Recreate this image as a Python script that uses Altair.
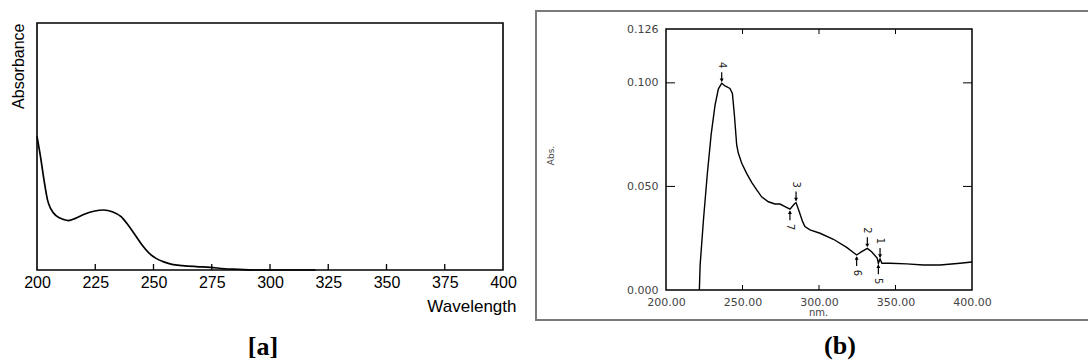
import altair as alt
import pandas as pd

# ---------------- data ----------------
# Panel [a]
a_wavelength = [200, 201.5, 203.0, 204.5, 206.0, 208.3, 211.3, 213.5, 216.5, 220.3, 224.8,
                228.6, 232.3, 236.1, 239.1, 242.1, 245.1, 248.1, 251.1, 254.1, 257.9, 262.4,
                268.4, 274.4, 280.5, 286.5, 292.5, 319.5]
a_absorbance = [0.541, 0.459, 0.365, 0.284, 0.246, 0.219, 0.205, 0.200, 0.209, 0.226, 0.239,
                0.243, 0.236, 0.216, 0.182, 0.142, 0.101, 0.068, 0.047, 0.034, 0.023, 0.018,
                0.014, 0.011, 0.005, 0.003, 0.0, 0.0]
a_tick_labels = [200, 225, 250, 275, 300, 325, 350, 375, 400]
a_minor_ticks = [225, 250, 275, 300, 325, 350, 375]

# Panel (b)
b_wavelength = [221.8, 222.3, 224.5, 227.0, 229.5, 232.0, 234.2, 236.4, 238.6, 241.8,
                243.4, 244.7, 246.2, 247.3, 249.5, 252.7, 256.0, 259.3, 262.5, 266.9, 271.2,
                274.5, 277.8, 281.0, 283.9, 285.0, 287.1, 289.3, 290.8, 294.1, 300.7, 309.4,
                318.1, 324.6, 327.9, 331.6, 334.4, 338.1, 338.8, 339.9, 341.1, 346.4, 357.3,
                368.2, 379.1, 392.2, 400.0]
b_absorbance = [0.0, 0.012, 0.034, 0.056, 0.075, 0.089, 0.097, 0.0998, 0.0985, 0.0973,
                0.0949, 0.0845, 0.0700, 0.0660, 0.0612, 0.0563, 0.0520, 0.0483, 0.0450, 0.0426, 0.0415,
                0.0415, 0.0402, 0.0390, 0.0415, 0.0422, 0.0378, 0.0330, 0.0306, 0.0290, 0.0274, 0.0245,
                0.0206, 0.0169, 0.0185, 0.0201, 0.0185, 0.0153, 0.0129, 0.0150, 0.0129, 0.0129, 0.0126,
                0.0121, 0.0121, 0.0129, 0.0135]
peak_labels = ["4", "3", "7", "2", "1", "6", "5"]
peak_wavelength = [236.4, 285.0, 281.0, 331.6, 339.9, 324.6, 338.8]
peak_absorbance = [0.0998, 0.0422, 0.0390, 0.0201, 0.0150, 0.0169, 0.0129]
peak_side = ["above", "above", "below", "above", "above", "below", "below"]
b_x_labels = [200, 250, 300, 350, 400]
b_y_labels = [0.0, 0.05, 0.1, 0.126]
b_x_ticks = [250, 300, 350]
b_y_ticks = [0.05, 0.1]

# ---------------- tables ----------------
df_a = pd.DataFrame({"wl": a_wavelength, "ab": a_absorbance})
df_a_ticks = pd.DataFrame({"wl": a_minor_ticks, "ab": [0.0] * len(a_minor_ticks)})
df_a_frame = pd.DataFrame({"wl": [200], "wl2": [400], "ab": [0.0], "ab2": [1.0]})

df_b = pd.DataFrame({"wl": b_wavelength, "ab": b_absorbance})
df_peaks = pd.DataFrame({"label": peak_labels, "wl": peak_wavelength,
                         "ab": peak_absorbance, "side": peak_side})
df_b_frame = pd.DataFrame({"wl": [200], "wl2": [400], "ab": [0.0], "ab2": [0.126]})
df_b_xt = pd.DataFrame({"wl": b_x_ticks})
df_b_yt = pd.DataFrame({"ab": b_y_ticks})
one = pd.DataFrame({"k": [0]})

# ---------------- panel [a] encodings ----------------
def xa():
    return alt.X("wl:Q",
                 scale=alt.Scale(domain=[200, 400], range=[37, 503], nice=False, zero=False),
                 axis=alt.Axis(orient="bottom", offset=-93, values=a_tick_labels, format="d",
                               ticks=False, domain=False, grid=False,
                               labelFont="Liberation Sans", labelFontSize=16, labelColor="black",
                               labelPadding=4, labelFlush=False, labelOverlap=False,
                               title="Wavelength", titleFont="Liberation Sans", titleFontSize=17,
                               titleFontWeight="normal", titleColor="black",
                               titleX=516, titleY=36, titleAlign="right", titleBaseline="middle"))

def ya():
    return alt.Y("ab:Q",
                 scale=alt.Scale(domain=[0, 1], range=[270, 23], nice=False, zero=False),
                 axis=alt.Axis(orient="left", offset=-37, labels=False, ticks=False,
                               domain=False, grid=False,
                               title="Absorbance", titleFont="Liberation Sans", titleFontSize=16,
                               titleFontWeight="normal", titleColor="black", titleAngle=270,
                               titleX=-19, titleY=23, titleAlign="right", titleBaseline="middle"))

line_a = alt.Chart(df_a).mark_line(color="black", strokeWidth=1.7, interpolate="monotone").encode(
    x=xa(), y=ya())
frame_a = alt.Chart(df_a_frame).mark_rect(filled=False, stroke="black", strokeWidth=1.6).encode(
    x=xa(), x2="wl2:Q", y=ya(), y2="ab2:Q")
ticks_a = alt.Chart(df_a_ticks).mark_rule(color="black", strokeWidth=1.3, y2Offset=-6).encode(
    x=xa(), y=ya(), y2="ab:Q")
panel_a = alt.layer(frame_a, ticks_a, line_a)

# ---------------- panel (b) encodings ----------------
B_LABEL = "#444444"

def xb():
    return alt.X("wl:Q",
                 scale=alt.Scale(domain=[200, 400], range=[666, 972], nice=False, zero=False),
                 axis=alt.Axis(orient="bottom", offset=-73, values=b_x_labels, format=".2f",
                               ticks=False, domain=False, grid=False,
                               labelFont="DejaVu Sans", labelFontSize=11, labelColor=B_LABEL,
                               labelPadding=6, labelFlush=False, labelOverlap=False,
                               title="nm.", titleFont="DejaVu Sans", titleFontSize=10,
                               titleFontWeight="normal", titleColor=B_LABEL,
                               titleX=818, titleY=22, titleAlign="center", titleBaseline="middle"))

def yb():
    return alt.Y("ab:Q",
                 scale=alt.Scale(domain=[0, 0.126], range=[290, 29], nice=False, zero=False),
                 axis=alt.Axis(orient="left", offset=-666, values=b_y_labels, format=".3f",
                               ticks=False, domain=False, grid=False,
                               labelFont="DejaVu Sans", labelFontSize=11, labelColor=B_LABEL,
                               labelPadding=8, labelFlush=False, labelOverlap=False,
                               title="Abs.", titleFont="DejaVu Sans", titleFontSize=9,
                               titleFontWeight="normal", titleColor=B_LABEL, titleAngle=270,
                               titleX=-116, titleY=155, titleAlign="center", titleBaseline="middle"))

line_b = alt.Chart(df_b).mark_line(color="black", strokeWidth=1.4).encode(x=xb(), y=yb())
frame_b = alt.Chart(df_b_frame).mark_rect(filled=False, stroke="black", strokeWidth=1.5).encode(
    x=xb(), x2="wl2:Q", y=yb(), y2="ab2:Q")

top_ticks = alt.Chart(df_b_xt).transform_calculate(ab="0.126").mark_rule(
    color="black", strokeWidth=1, y2Offset=5).encode(x=xb(), y=yb(), y2="ab:Q")
bot_ticks = alt.Chart(df_b_xt).transform_calculate(ab="0").mark_rule(
    color="black", strokeWidth=1, y2Offset=-5).encode(x=xb(), y=yb(), y2="ab:Q")
left_ticks = alt.Chart(df_b_yt).transform_calculate(wl="200").mark_rule(
    color="black", strokeWidth=1, x2Offset=9).encode(x=xb(), x2="wl:Q", y=yb())
right_ticks = alt.Chart(df_b_yt).transform_calculate(wl="400").mark_rule(
    color="black", strokeWidth=1, x2Offset=-9).encode(x=xb(), x2="wl:Q", y=yb())

peaks = alt.Chart(df_peaks)
above = peaks.transform_filter(alt.datum.side == "above")
below = peaks.transform_filter(alt.datum.side == "below")

arr_up = above.mark_rule(color="black", strokeWidth=1.2, yOffset=-2, y2Offset=-11).encode(
    x=xb(), y=yb(), y2="ab:Q")
head_up = above.mark_point(shape="triangle-down", filled=True, color="black", size=16,
                           opacity=1, yOffset=-3).encode(x=xb(), y=yb())
lab_up = above.mark_text(angle=90, font="DejaVu Sans", fontSize=10, color="#222",
                         yOffset=-18).encode(x=xb(), y=yb(), text="label:N")

arr_dn = below.mark_rule(color="black", strokeWidth=1.2, yOffset=2, y2Offset=11).encode(
    x=xb(), y=yb(), y2="ab:Q")
head_dn = below.mark_point(shape="triangle-up", filled=True, color="black", size=16,
                           opacity=1, yOffset=3).encode(x=xb(), y=yb())
lab_dn = below.mark_text(angle=90, font="DejaVu Sans", fontSize=10, color="#222",
                         yOffset=18).encode(x=xb(), y=yb(), text="label:N")

panel_b = alt.layer(frame_b, top_ticks, bot_ticks, left_ticks, right_ticks, line_b,
                    arr_up, head_up, lab_up, arr_dn, head_dn, lab_dn)

# ---------------- decorations (panel box and captions) ----------------
box_b = alt.Chart(one).mark_rect(filled=False, stroke="#7a7a7a", strokeWidth=2).encode(
    x=alt.value(536), x2=alt.value(1094), y=alt.value(11), y2=alt.value(320))
cap_a = alt.Chart(one).mark_text(font="Liberation Serif", fontWeight="bold", fontSize=26,
                                 color="black").encode(
    x=alt.value(263), y=alt.value(347), text=alt.value("[a]"))
cap_b = alt.Chart(one).mark_text(font="Liberation Serif", fontWeight="bold", fontSize=26,
                                 color="black").encode(
    x=alt.value(840), y=alt.value(346), text=alt.value("(b)"))
deco = alt.layer(box_b, cap_a, cap_b)

chart = alt.layer(panel_a, panel_b, deco).resolve_scale(
    x="independent", y="independent"
).properties(
    width=1088, height=363,
    autosize=alt.AutoSizeParams(type="none"),
    padding=0, background="white"
).configure_view(stroke=None)

chart.save("out.html", embed_options={"renderer": "svg", "actions": False})
